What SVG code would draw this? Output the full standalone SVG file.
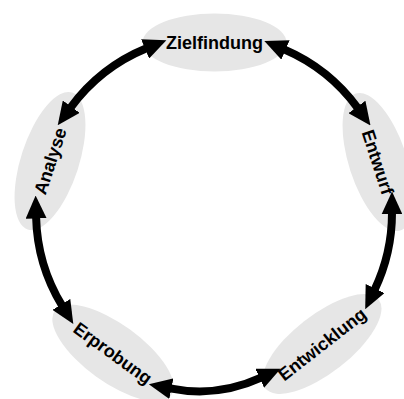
<svg xmlns="http://www.w3.org/2000/svg" width="404" height="399" viewBox="0 0 404 399">
<defs>
<style>
.node ellipse{fill:#e6e6e6;}
.node text{font-family:"Liberation Sans",Arial,sans-serif;font-weight:bold;font-size:18px;fill:#000;text-anchor:middle;}
.conn path{fill:none;stroke:#000;stroke-width:8;}
</style>
<marker id="ah" markerUnits="userSpaceOnUse" markerWidth="23" markerHeight="21" viewBox="0 0 23 21" refX="1.5" refY="10.5" orient="auto-start-reverse">
<path d="M0,0 L23,10.5 L0,21 z" fill="#000"/>
</marker>
</defs>
<rect width="404" height="399" fill="#fff"/>
<g id="zielfindung" class="node" transform="translate(214.5,42.5)">
<ellipse cx="0" cy="0" rx="72" ry="29"/>
<text x="0" y="6.5">Zielfindung</text>
</g>
<g id="entwurf" class="node" transform="translate(378,162) rotate(72)">
<ellipse cx="0" cy="0" rx="72" ry="29"/>
<text x="0" y="6.5">Entwurf</text>
</g>
<g id="entwicklung" class="node" transform="translate(322,344) rotate(-38)">
<ellipse cx="0" cy="0" rx="72" ry="29"/>
<text x="0" y="6.5">Entwicklung</text>
</g>
<g id="erprobung" class="node" transform="translate(113,353) rotate(36)">
<ellipse cx="0" cy="0" rx="72" ry="29"/>
<text x="0" y="6.5">Erprobung</text>
</g>
<g id="analyse" class="node" transform="translate(50,161) rotate(-72)">
<ellipse cx="0" cy="0" rx="72" ry="29"/>
<text x="0" y="6.5">Analyse</text>
</g>
<g id="connectors" class="conn">
<path d="M70.4,107.9 A178,178 0 0 1 146.5,48.3" marker-start="url(#ah)" marker-end="url(#ah)"/>
<path d="M284.1,49.4 A178,178 0 0 1 357.8,108.1" marker-start="url(#ah)" marker-end="url(#ah)"/>
<path d="M392,213 A178,178 0 0 1 374.5,289.9" marker-start="url(#ah)" marker-end="url(#ah)"/>
<path d="M261.1,377.7 A148.7,148.7 0 0 1 169.9,388.4" marker-start="url(#ah)" marker-end="url(#ah)"/>
<path d="M62.1,305.7 A178,178 0 0 1 36.1,217" marker-start="url(#ah)" marker-end="url(#ah)"/>
</g>
</svg>
